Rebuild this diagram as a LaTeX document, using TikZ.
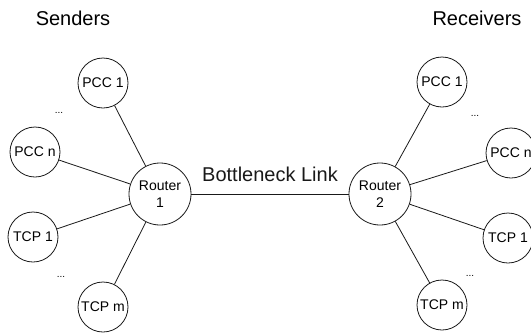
\documentclass[tikz,border=0pt]{standalone}
\usepackage{fontspec}
\setmainfont{Liberation Sans}
\colorlet{linkColor}{black!90}
\tikzset{
  host/.style={draw=linkColor,circle,minimum size=50pt,inner sep=0pt,font=\fontsize{14}{17}\selectfont},
  router/.style={host,minimum size=62pt,align=center},
  sideLabel/.style={font=\fontsize{20}{24}\selectfont},
  moreDots/.style={font=\fontsize{10}{12}\selectfont,inner sep=0pt}
}
\begin{document}
\begin{tikzpicture}[x=1pt,y=-1pt,line width=0.8pt]
\clip (0,0) rectangle (531,333);
% senders
\node[sideLabel] (senders) at (73,18) {Senders};
\node[router] (routerOne) at (160,194) {Router\\1};
\node[host] (sPccOne) at (103,83) {PCC 1};
\node[host] (sPccN) at (35,152) {PCC n};
\node[host] (sTcpOne) at (33,237) {TCP 1};
\node[host] (sTcpM) at (103,307) {TCP m};
\node[moreDots] (sDotsA) at (59,113) {...};
\node[moreDots] (sDotsB) at (61,277) {...};
% receivers
\node[sideLabel] (receivers) at (477,18) {Receivers};
\node[router] (routerTwo) at (380,194) {Router\\2};
\node[host] (rPccOne) at (442,82) {PCC 1};
\node[host] (rPccN) at (511,153) {PCC n};
\node[host] (rTcpOne) at (508,238) {TCP 1};
\node[host] (rTcpM) at (442,305) {TCP m};
\node[moreDots] (rDotsA) at (475,116) {...};
\node[moreDots] (rDotsB) at (470,276) {...};
% links
\draw[linkColor] (sPccOne) -- (routerOne) (sPccN) -- (routerOne)
  (sTcpOne) -- (routerOne) (sTcpM) -- (routerOne);
\draw[linkColor] (rPccOne) -- (routerTwo) (rPccN) -- (routerTwo)
  (rTcpOne) -- (routerTwo) (rTcpM) -- (routerTwo);
\draw[linkColor] (routerOne) -- node[sideLabel,midway,above=12pt,inner sep=0pt] (bottleneck) {Bottleneck Link} (routerTwo);
\end{tikzpicture}
\end{document}
